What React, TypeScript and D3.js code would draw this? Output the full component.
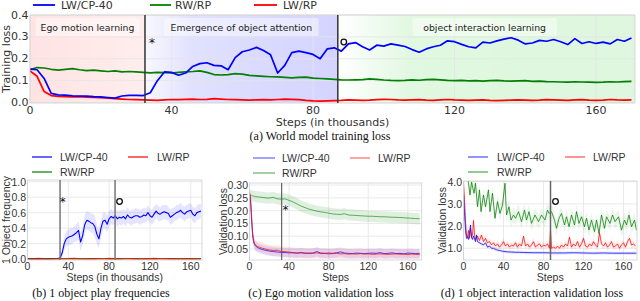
import React from 'react';
import * as d3 from 'd3';

// ---------------- DATA ----------------
// (a) World model training loss, steps in thousands
const STEPS_A = d3.range(0, 171, 2);
const A_CP40 = [
  0.153, 0.150, 0.110, 0.042, 0.035, 0.034, 0.031, 0.030, 0.029, 0.027,
  0.026, 0.023, 0.020, 0.030, 0.033, 0.033, 0.032, 0.045, 0.100, 0.140,
  0.138, 0.125, 0.135, 0.165, 0.178, 0.182, 0.170, 0.168, 0.150, 0.205,
  0.232, 0.240, 0.252, 0.238, 0.218, 0.135, 0.170, 0.228, 0.235, 0.228,
  0.220, 0.200, 0.245, 0.250, 0.235, 0.268, 0.274, 0.255, 0.240, 0.262,
  0.258, 0.268, 0.262, 0.256, 0.242, 0.230, 0.245, 0.255, 0.262, 0.282,
  0.278, 0.266, 0.255, 0.250, 0.276, 0.272, 0.282, 0.290, 0.296, 0.285,
  0.268, 0.272, 0.284, 0.280, 0.288, 0.278, 0.265, 0.292, 0.270, 0.278,
  0.270, 0.276, 0.268, 0.288, 0.280, 0.295,
];
const A_RWRP = [
  0.150, 0.160, 0.158, 0.152, 0.148, 0.152, 0.155, 0.150, 0.146, 0.148,
  0.145, 0.142, 0.145, 0.140, 0.142, 0.140, 0.138, 0.136, 0.138, 0.137,
  0.135, 0.138, 0.140, 0.142, 0.145, 0.138, 0.128, 0.126, 0.128, 0.132,
  0.130, 0.124, 0.122, 0.120, 0.118, 0.117, 0.115, 0.113, 0.115, 0.116,
  0.112, 0.110, 0.108, 0.106, 0.104, 0.103, 0.104, 0.105, 0.108, 0.106,
  0.103, 0.101, 0.100, 0.101, 0.104, 0.102, 0.105, 0.106, 0.104, 0.101,
  0.100, 0.101, 0.099, 0.100, 0.098, 0.100, 0.101, 0.099, 0.098, 0.099,
  0.100, 0.097, 0.098, 0.096, 0.095, 0.094, 0.093, 0.095, 0.094, 0.093,
  0.092, 0.093, 0.095, 0.094, 0.096, 0.097,
];
const A_LWRP = [
  0.145, 0.120, 0.050, 0.032, 0.028, 0.027, 0.026, 0.027, 0.025, 0.024,
  0.022, 0.020, 0.018, 0.016, 0.014, 0.013, 0.012, 0.011, 0.010, 0.012,
  0.014, 0.013, 0.015, 0.016, 0.014, 0.015, 0.018, 0.016, 0.014, 0.013,
  0.012, 0.011, 0.012, 0.013, 0.012, 0.014, 0.016, 0.015, 0.013, 0.010,
  0.008, 0.007, 0.008, 0.009, 0.010, 0.012, 0.011, 0.010, 0.011, 0.013,
  0.015, 0.014, 0.012, 0.011, 0.012, 0.013, 0.011, 0.010, 0.012, 0.014,
  0.012, 0.011, 0.010, 0.011, 0.012, 0.010, 0.009, 0.010, 0.011, 0.012,
  0.011, 0.010, 0.011, 0.013, 0.012, 0.011, 0.010, 0.012, 0.013, 0.011,
  0.010, 0.011, 0.014, 0.012, 0.011, 0.012,
];
const A_TICKS_X = [0, 40, 80, 120, 160];
const A_TICKS_Y = [0, 0.1, 0.2, 0.3, 0.4];
const A_PHASES = [
  { from: 0, to: 32.5, label: 'Ego motion learning', color: '#ff0000', stops: [0.11, 0.1, 0.07] },
  { from: 32.5, to: 87, label: 'Emergence of object attention', color: '#0000ff', stops: [0.03, 0.12, 0.17] },
  { from: 87, to: 171, label: 'object interaction learning', color: '#00c000', stops: [0.0, 0.12, 0.13] },
];

// (b) 1 object play frequencies
const STEPS_B = d3.range(0, 171, 2);
const B_CP40 = [
  0.004, 0.003, 0.005, 0.004, 0.003, 0.006, 0.004, 0.005, 0.003, 0.004,
  0.006, 0.005, 0.004, 0.005, 0.006, 0.008,
  0.012, 0.08, 0.20, 0.26, 0.28, 0.29, 0.30, 0.32, 0.34, 0.37,
  0.22, 0.30, 0.44, 0.50, 0.49, 0.47, 0.46, 0.42, 0.32, 0.26,
  0.40, 0.49, 0.50, 0.45, 0.52, 0.55, 0.53, 0.56, 0.52, 0.54,
  0.53, 0.55, 0.52, 0.57, 0.54, 0.53, 0.55, 0.56, 0.56, 0.54,
  0.55, 0.57, 0.56, 0.60, 0.56, 0.54, 0.58, 0.62, 0.59, 0.58,
  0.60, 0.61, 0.60, 0.59, 0.54, 0.56, 0.58, 0.60, 0.61, 0.63,
  0.60, 0.58, 0.61, 0.62, 0.63, 0.58, 0.56, 0.60, 0.61, 0.62,
];
const B_CP40_SPREAD = [
  0.005, 0.005, 0.005, 0.005, 0.005, 0.005, 0.005, 0.005, 0.005, 0.005,
  0.005, 0.005, 0.005, 0.005, 0.005, 0.008,
  0.02, 0.06, 0.09, 0.10, 0.10, 0.11, 0.10, 0.10, 0.11, 0.12,
  0.12, 0.12, 0.13, 0.12, 0.12, 0.12, 0.13, 0.14, 0.13, 0.12,
  0.12, 0.11, 0.10, 0.11, 0.10, 0.10, 0.09, 0.10, 0.10, 0.09,
  0.10, 0.09, 0.10, 0.10, 0.09, 0.10, 0.09, 0.10, 0.09, 0.10,
  0.09, 0.10, 0.09, 0.10, 0.09, 0.10, 0.10, 0.09, 0.10, 0.09,
  0.10, 0.09, 0.10, 0.09, 0.10, 0.10, 0.09, 0.10, 0.09, 0.10,
  0.09, 0.10, 0.09, 0.10, 0.09, 0.10, 0.10, 0.09, 0.10, 0.09,
];
const STEPS_B_FLAT = d3.range(0, 171, 5);
const B_LWRP = [
  0.006, 0.004, 0.008, 0.005, 0.003, 0.007, 0.006, 0.004, 0.005, 0.008,
  0.006, 0.004, 0.007, 0.005, 0.006, 0.004, 0.008, 0.005, 0.006, 0.003,
  0.005, 0.007, 0.004, 0.006, 0.005, 0.008, 0.004, 0.006, 0.005, 0.007,
  0.004, 0.006, 0.005, 0.004, 0.006,
];
const B_RWRP = [
  0.002, 0.003, 0.002, 0.004, 0.002, 0.003, 0.002, 0.003, 0.004, 0.002,
  0.003, 0.002, 0.003, 0.002, 0.004, 0.003, 0.002, 0.003, 0.002, 0.003,
  0.004, 0.002, 0.003, 0.002, 0.003, 0.002, 0.004, 0.003, 0.002, 0.003,
  0.002, 0.003, 0.002, 0.003, 0.002,
];
const B_TICKS_X = [0, 40, 80, 120, 160];
const B_TICKS_Y = [0, 0.2, 0.4, 0.6, 0.8, 1.0];

// (c) Ego motion validation loss
const STEPS_C = [0, 1, 2, 3, 4, 5, 6, 8, 10, 13, 16, 20, 24, 28, 32, 36, 40, 44, 48, 52, 56, 60, 64, 68, 72, 76, 80, 84, 88, 92, 96, 100, 104, 108, 112, 116, 120, 124, 128, 132, 136, 140, 144, 148, 152, 156, 160, 164, 168, 172];
const C_RWRP = [
  0.262, 0.261, 0.259, 0.258, 0.257, 0.256, 0.255, 0.254, 0.253, 0.252,
  0.250, 0.249, 0.252, 0.246, 0.245, 0.246, 0.240, 0.234, 0.226, 0.218,
  0.212, 0.206, 0.202, 0.198, 0.195, 0.193, 0.190, 0.187, 0.186, 0.185,
  0.188, 0.183, 0.182, 0.181, 0.180, 0.179, 0.178, 0.178, 0.177, 0.176,
  0.176, 0.175, 0.174, 0.174, 0.173, 0.172, 0.171, 0.170, 0.169, 0.168,
];
const C_CP40 = [
  0.27, 0.24, 0.17, 0.11, 0.08, 0.068, 0.062, 0.056, 0.052, 0.048,
  0.045, 0.042, 0.040, 0.038, 0.037, 0.036, 0.035, 0.035, 0.034, 0.036,
  0.034, 0.033, 0.034, 0.040, 0.034, 0.033, 0.034, 0.033, 0.035, 0.039,
  0.034, 0.033, 0.032, 0.034, 0.033, 0.032, 0.033, 0.034, 0.033, 0.036,
  0.032, 0.033, 0.035, 0.032, 0.033, 0.031, 0.034, 0.033, 0.032, 0.033,
];
const C_LWRP = [
  0.27, 0.25, 0.19, 0.12, 0.085, 0.072, 0.066, 0.060, 0.057, 0.053,
  0.050, 0.046, 0.044, 0.045, 0.040, 0.040, 0.038, 0.036, 0.034, 0.035,
  0.033, 0.034, 0.033, 0.035, 0.032, 0.033, 0.031, 0.032, 0.033, 0.031,
  0.032, 0.030, 0.031, 0.030, 0.032, 0.030, 0.031, 0.029, 0.030, 0.031,
  0.030, 0.029, 0.030, 0.031, 0.029, 0.030, 0.028, 0.030, 0.029, 0.028,
];
const C_SPREAD = { cp40: 0.018, lwrp: 0.02, rwrp: 0.022 };
const C_TICKS_X = [0, 40, 80, 120, 160];
const C_TICKS_Y = [0.05, 0.10, 0.15, 0.20, 0.25, 0.30];

// (d) 1 object interaction validation loss
const D_RWRP_STEPS = [4, 5, 6.5, 8, 10.5, 12, 14, 16, 17.5, 20, 22, 25, 26.5, 29, 31.5, 34, 36.5, 39, 41.5, 43, 45.5, 47.5, 50, 52, 55, 58, 61, 63, 65.5, 68, 71.5, 75, 78, 81.5, 84, 85.5, 88, 91, 93, 95.5, 98, 101, 103, 105.5, 108, 111, 113, 115.5, 118, 121, 123, 125.5, 128, 131, 133, 135.5, 138, 141, 143, 146.5, 149, 151.5, 155, 158, 161, 163, 165.5, 168, 171, 173];
const D_RWRP = [
  4.2,
  3.93, 3.40, 3.98, 3.48, 3.93, 2.87, 3.63, 2.65, 3.40, 2.87,
  3.63, 2.65, 3.48, 2.35, 3.10, 2.57, 2.95, 3.93, 2.50, 2.87,
  2.27, 2.50, 2.35, 2.65, 2.20, 2.72, 2.27, 2.65, 2.12, 2.50,
  2.20, 2.50, 2.27, 2.72, 2.57, 2.65, 2.27, 1.90, 2.35, 2.57,
  2.05, 2.42, 1.97, 2.50, 2.05, 2.65, 2.12, 2.42, 1.97, 2.35,
  1.82, 2.27, 1.75, 2.27, 1.67, 2.50, 1.90, 2.42, 2.12, 2.50,
  2.20, 2.42, 1.82, 2.27, 2.05, 2.50, 1.97, 2.27, 1.82,
];
const D_LWRP_STEPS = [0, 1, 2, 3, 4, 5, 6, 7, 8, 9, 10, 11, 12, 14, 16, 18, 20, 22, 24, 26, 28, 30, 32, 34, 36, 38, 40, 42, 44, 46, 48, 50, 52, 54, 56, 58, 60, 62, 64, 66, 68, 70, 72, 74, 76, 78, 80, 82, 84, 86, 87, 88, 90, 92, 94, 96, 98, 100, 102, 104, 106, 108, 110, 112, 114, 116, 118, 120, 122, 124, 126, 128, 130, 132, 134, 136, 138, 140, 142, 144, 146, 148, 150, 152, 154, 156, 158, 160, 162, 164, 166, 168, 170, 172];
const D_LWRP = [
  4.0, 3.2, 2.2, 1.6, 1.5, 1.8, 1.45, 1.9, 1.5, 1.6, 2.25, 1.6, 1.4,
  1.55, 1.35, 1.6, 1.3, 1.45, 1.25, 1.3, 1.15, 1.25, 1.1, 1.2, 1.05, 1.15,
  1.3, 1.1, 1.2, 1.05, 1.15, 1.1, 1.25, 1.05, 1.2, 1.1, 1.55, 1.1, 1.2, 1.05,
  1.15, 1.3, 1.05, 1.15, 1.2, 1.05, 1.15, 1.1, 1.2, 1.0, 1.85, 1.0,
  1.05, 1.0, 1.1, 1.0, 1.15, 1.05, 1.2, 1.1, 1.5, 1.05, 1.2, 1.1, 1.3, 1.05,
  1.2, 1.45, 1.1, 1.05, 1.2, 1.1, 1.3, 1.15, 1.05, 1.7, 1.2, 1.1, 1.25, 1.05,
  1.15, 1.3, 1.05, 1.1, 1.2, 1.0, 1.15, 1.25, 1.05, 1.3, 1.45, 1.15, 1.2, 1.1,
];
const D_CP40_STEPS = [0, 1, 2, 3, 4, 5, 6, 7, 8, 9, 10, 12, 13, 14, 16, 18, 20, 22, 24, 26, 28, 30, 32, 34, 36, 38, 40, 44, 48, 52, 56, 60, 70, 80, 90, 100, 110, 120, 130, 140, 150, 160, 173];
const D_CP40 = [
  3.4, 2.6, 1.8, 1.45, 1.5, 1.4, 1.7, 2.05, 1.5, 1.4, 1.55, 1.3, 1.6, 1.3,
  1.25, 1.2, 1.15, 1.25, 1.05, 1.1, 1.0, 1.0, 0.95, 0.92, 0.9, 0.88, 0.86,
  0.84, 0.83, 0.82, 0.82, 0.81, 0.8, 0.8, 0.79, 0.79, 0.8, 0.79, 0.78, 0.79,
  0.78, 0.78, 0.78,
];
const D_SPREAD = { cp40: 0.07, lwrp: 0.16, rwrp: 0.32 };
const D_TICKS_X = [0, 40, 80, 120, 160];
const D_TICKS_Y = [1, 2, 3, 4];

// ---------------- STYLE ----------------
const BLUE = '#0000ff';
const GREEN = '#008000';
const RED = '#ff0000';
const FONT_A = "'DejaVu Sans', sans-serif";
const FONT_B = "'Liberation Sans', Arial, sans-serif";
const SERIF = "'Liberation Serif', 'Times New Roman', serif";
const GRID = '#e4e4e4';
const FRAME = '#d0d0d0';

type Series = {
  xs: number[];
  ys: number[];
  spread?: number[] | number;
  color: string;
  width: number;
  opacity?: number;
  bandOpacity?: number;
};

type PanelProps = {
  id: string;
  l: number; r: number; t: number; b: number;
  xDomain: [number, number];
  yDomain: [number, number];
  xTicks: number[];
  yTicks: number[];
  yFmt: string;
  font: string;
  fs: number;
  series: Series[];
  vlines: { x: number; color: string; width: number }[];
  xLabel: string;
  yLabel: string;
  yLabelX: number;
  xTickY: number;
  xLabelY: number;
  background?: (x: d3.ScaleLinear<number, number>, y: d3.ScaleLinear<number, number>) => React.ReactNode;
  overlay?: (x: d3.ScaleLinear<number, number>, y: d3.ScaleLinear<number, number>) => React.ReactNode;
};

function Panel(p: PanelProps) {
  const x = d3.scaleLinear().domain(p.xDomain).range([p.l, p.r]);
  const y = d3.scaleLinear().domain(p.yDomain).range([p.b, p.t]);
  const clipId = `clip-${p.id}`;
  const fmt = d3.format(p.yFmt);
  return (
    <g>
      <defs>
        <clipPath id={clipId}>
          <rect x={p.l} y={p.t} width={p.r - p.l} height={p.b - p.t} />
        </clipPath>
      </defs>
      <rect x={p.l} y={p.t} width={p.r - p.l} height={p.b - p.t} fill="#fff" />
      {p.background && p.background(x, y)}
      {p.xTicks.map((v) => (
        <line key={`gx${v}`} x1={x(v)} x2={x(v)} y1={p.t} y2={p.b} stroke={GRID} strokeWidth={0.8} />
      ))}
      {p.yTicks.map((v) => (
        <line key={`gy${v}`} x1={p.l} x2={p.r} y1={y(v)} y2={y(v)} stroke={GRID} strokeWidth={0.8} />
      ))}
      <g clipPath={`url(#${clipId})`}>
        {p.series.map((s, i) => {
          if (s.spread === undefined) return null;
          const sp = (j: number) => (typeof s.spread === 'number' ? s.spread : (s.spread as number[])[j]);
          const area = d3
            .area<number>()
            .x((_, j) => x(s.xs[j]))
            .y0((v, j) => y(v - sp(j)))
            .y1((v, j) => y(v + sp(j)));
          return <path key={`band${i}`} d={area(s.ys) || ''} fill={s.color} opacity={s.bandOpacity ?? 0.12} stroke="none" />;
        })}
        {p.series.map((s, i) => {
          const line = d3
            .line<number>()
            .x((_, j) => x(s.xs[j]))
            .y((v) => y(v));
          return (
            <path key={`line${i}`} d={line(s.ys) || ''} fill="none" stroke={s.color} strokeWidth={s.width}
              strokeOpacity={s.opacity ?? 1} strokeLinejoin="round" />
          );
        })}
      </g>
      <rect x={p.l} y={p.t} width={p.r - p.l} height={p.b - p.t} fill="none" stroke={FRAME} strokeWidth={0.8} />
      {p.vlines.map((v, i) => (
        <line key={`vl${i}`} x1={x(v.x)} x2={x(v.x)} y1={p.t} y2={p.b} stroke={v.color} strokeWidth={v.width} />
      ))}
      {p.overlay && p.overlay(x, y)}
      {p.xTicks.map((v) => (
        <text key={`tx${v}`} x={x(v)} y={p.xTickY} textAnchor="middle" dominantBaseline="central"
          fontFamily={p.font} fontSize={p.fs} fill="#333">{v}</text>
      ))}
      {p.yTicks.map((v) => (
        <text key={`ty${v}`} x={p.l - 1.5} y={y(v)} textAnchor="end" dominantBaseline="central"
          fontFamily={p.font} fontSize={p.fs} fill="#333">{fmt(v)}</text>
      ))}
      <text x={(p.l + p.r) / 2} y={p.xLabelY} textAnchor="middle" dominantBaseline="central"
        fontFamily={p.font} fontSize={p.fs} fill="#333">{p.xLabel}</text>
      <text transform={`translate(${p.yLabelX},${(p.t + p.b) / 2}) rotate(-90)`} textAnchor="middle"
        dominantBaseline="central" fontFamily={p.font} fontSize={p.fs} fill="#333">{p.yLabel}</text>
    </g>
  );
}

type LegendItem = { label: string; color: string; x1: number; x2: number; tx: number; y: number; opacity?: number; width: number };

function Legend({ items, font, fs }: { items: LegendItem[]; font: string; fs: number }) {
  return (
    <g>
      {items.map((it) => (
        <g key={it.label}>
          <line x1={it.x1} x2={it.x2} y1={it.y} y2={it.y} stroke={it.color} strokeWidth={it.width} strokeOpacity={it.opacity ?? 1} />
          <text x={it.tx} y={it.y} dominantBaseline="central" fontFamily={font} fontSize={fs} fill="#333">{it.label}</text>
        </g>
      ))}
    </g>
  );
}

function Star({ x, y }: { x: number; y: number }) {
  return (
    <text x={x} y={y} textAnchor="middle" dominantBaseline="central" fontFamily={FONT_A} fontSize={12} fill="#111">*</text>
  );
}
function Ring({ x, y }: { x: number; y: number }) {
  return <circle cx={x} cy={y} r={2.8} fill="none" stroke="#111" strokeWidth={1.3} />;
}

export default function App() {
  const FS_B = 10.5;
  return (
    <svg width={640} height={301} viewBox="0 0 640 301" style={{ position: 'absolute', left: 0, top: 0, background: '#fff' }}>
      <rect x={0} y={0} width={640} height={301} fill="#fff" />
      <defs>
        {A_PHASES.map((ph, i) => (
          <linearGradient key={i} id={`phase${i}`} x1="0" x2="1" y1="0" y2="0">
            <stop offset="0%" stopColor={ph.color} stopOpacity={ph.stops[0]} />
            <stop offset="25%" stopColor={ph.color} stopOpacity={ph.stops[1]} />
            <stop offset="100%" stopColor={ph.color} stopOpacity={ph.stops[2]} />
          </linearGradient>
        ))}
      </defs>

      {/* (a) */}
      <Legend font={FONT_A} fs={11} items={[
        { label: 'LW/CP-40', color: BLUE, x1: 33, x2: 55, tx: 61, y: 5, width: 1.8 },
        { label: 'RW/RP', color: GREEN, x1: 150, x2: 171, tx: 175, y: 5, width: 1.8 },
        { label: 'LW/RP', color: RED, x1: 254, x2: 277, tx: 283, y: 5, width: 1.8 },
      ]} />
      <Panel id="a" l={30} r={635} t={15} b={103} xDomain={[0, 171]} yDomain={[-0.002, 0.4]}
        xTicks={A_TICKS_X} yTicks={A_TICKS_Y} yFmt=".1f" font={FONT_A} fs={11}
        series={[
          { xs: STEPS_A, ys: A_RWRP, color: GREEN, width: 1.7 },
          { xs: STEPS_A, ys: A_LWRP, color: RED, width: 1.7 },
          { xs: STEPS_A, ys: A_CP40, color: BLUE, width: 1.7 },
        ]}
        vlines={[{ x: 32.5, color: '#333', width: 1.5 }, { x: 87, color: '#333', width: 1.5 }]}
        xLabel="Steps (in thousands)" yLabel="Training loss" yLabelX={6} xTickY={110} xLabelY={122}
        background={(x, y) => (
          <g>
            {A_PHASES.map((ph, i) => (
              <rect key={i} x={x(ph.from)} y={y(0.4)} width={x(ph.to) - x(ph.from)} height={y(-0.002) - y(0.4)} fill={`url(#phase${i})`} />
            ))}
          </g>
        )}
        overlay={(x, y) => (
          <g>
            {A_PHASES.map((ph, i) => {
              const cx = i === 2 ? x(128.5) : (x(ph.from) + x(ph.to)) / 2;
              const w = ph.label.length * 5.05 + 8;
              return (
                <g key={i}>
                  <rect x={cx - w / 2} y={18} width={w} height={18} rx={2} fill="#fff" fillOpacity={0.45} />
                  <text x={cx} y={27} textAnchor="middle" dominantBaseline="central" fontFamily={FONT_A} fontSize={9.3} fill="#222">{ph.label}</text>
                </g>
              );
            })}
            <Star x={x(34.5)} y={43} />
            <Ring x={x(88.7)} y={42} />
          </g>
        )}
      />
      <text x={320} y={136} textAnchor="middle" dominantBaseline="central" fontFamily={SERIF} fontSize={12} fill="#111">(a) World model training loss</text>

      {/* (b) */}
      <Legend font={FONT_B} fs={FS_B} items={[
        { label: 'LW/CP-40', color: BLUE, x1: 32, x2: 52, tx: 60, y: 157, width: 1.2 },
        { label: 'LW/RP', color: RED, x1: 128, x2: 148, tx: 157, y: 157, width: 1.2 },
        { label: 'RW/RP', color: GREEN, x1: 32, x2: 52, tx: 60, y: 172, width: 1.2 },
      ]} />
      <Panel id="b" l={27.5} r={202} t={180} b={260} xDomain={[0, 171]} yDomain={[-0.013, 1.022]}
        xTicks={B_TICKS_X} yTicks={B_TICKS_Y} yFmt=".1f" font={FONT_B} fs={FS_B}
        series={[
          { xs: STEPS_B, ys: B_CP40, spread: B_CP40_SPREAD, color: BLUE, width: 1.1, bandOpacity: 0.1 },
          { xs: STEPS_B_FLAT, ys: B_RWRP, color: GREEN, width: 1.1 },
          { xs: STEPS_B_FLAT, ys: B_LWRP, color: RED, width: 1.1, opacity: 0.8 },
        ]}
        vlines={[{ x: 31.9, color: '#777', width: 1.5 }, { x: 85.8, color: '#777', width: 1.5 }]}
        xLabel="Steps (in thousands)" yLabel="1 Object frequency" yLabelX={6} xTickY={266} xLabelY={277}
        overlay={(x, y) => (
          <g>
            <Star x={x(34.5)} y={202} />
            <Ring x={x(90.2)} y={201.5} />
          </g>
        )}
      />
      <text x={101} y={293} textAnchor="middle" dominantBaseline="central" fontFamily={SERIF} fontSize={12} fill="#111">(b) 1 object play frequencies</text>

      {/* (c) */}
      <Legend font={FONT_B} fs={FS_B} items={[
        { label: 'LW/CP-40', color: BLUE, x1: 253, x2: 275, tx: 282, y: 158, width: 1.2, opacity: 0.6 },
        { label: 'LW/RP', color: RED, x1: 350, x2: 370, tx: 378, y: 158, width: 1.2, opacity: 0.6 },
        { label: 'RW/RP', color: GREEN, x1: 253, x2: 275, tx: 282, y: 173, width: 1.2, opacity: 0.6 },
      ]} />
      <Panel id="c" l={249.5} r={421.7} t={183} b={260} xDomain={[0, 174]} yDomain={[0.007, 0.308]}
        xTicks={C_TICKS_X} yTicks={C_TICKS_Y} yFmt=".2f" font={FONT_B} fs={FS_B}
        series={[
          { xs: STEPS_C, ys: C_RWRP, spread: C_SPREAD.rwrp, color: GREEN, width: 1.0, opacity: 0.6, bandOpacity: 0.12 },
          { xs: STEPS_C, ys: C_CP40, spread: C_SPREAD.cp40, color: BLUE, width: 1.0, opacity: 0.7, bandOpacity: 0.1 },
          { xs: STEPS_C, ys: C_LWRP, spread: C_SPREAD.lwrp, color: RED, width: 1.0, opacity: 0.7, bandOpacity: 0.1 },
        ]}
        vlines={[{ x: 32.5, color: '#555', width: 1.1 }]}
        xLabel="Steps" yLabel="Validation loss" yLabelX={223} xTickY={266} xLabelY={277}
        overlay={(x, y) => <Star x={x(36.5)} y={210} />}
      />
      <text x={321} y={293} textAnchor="middle" dominantBaseline="central" fontFamily={SERIF} fontSize={12} fill="#111">(c) Ego motion validation loss</text>

      {/* (d) */}
      <Legend font={FONT_B} fs={FS_B} items={[
        { label: 'LW/CP-40', color: BLUE, x1: 468, x2: 488, tx: 497, y: 157, width: 1.2, opacity: 0.7 },
        { label: 'LW/RP', color: RED, x1: 565, x2: 585, tx: 593, y: 157, width: 1.2, opacity: 0.7 },
        { label: 'RW/RP', color: GREEN, x1: 468, x2: 488, tx: 497, y: 172, width: 1.2, opacity: 0.7 },
      ]} />
      <Panel id="d" l={463.5} r={637} t={181} b={260} xDomain={[0, 173.5]} yDomain={[0.473, 4.03]}
        xTicks={D_TICKS_X} yTicks={D_TICKS_Y} yFmt=".1f" font={FONT_B} fs={FS_B}
        series={[
          { xs: D_RWRP_STEPS, ys: D_RWRP, spread: D_SPREAD.rwrp, color: GREEN, width: 1.0, opacity: 0.75, bandOpacity: 0.08 },
          { xs: D_LWRP_STEPS, ys: D_LWRP, spread: D_SPREAD.lwrp, color: RED, width: 1.0, opacity: 0.75, bandOpacity: 0.08 },
          { xs: D_CP40_STEPS, ys: D_CP40, spread: D_SPREAD.cp40, color: BLUE, width: 1.0, opacity: 0.75, bandOpacity: 0.1 },
        ]}
        vlines={[{ x: 87, color: '#666', width: 1.5 }]}
        xLabel="Steps" yLabel="Validation loss" yLabelX={442} xTickY={266} xLabelY={277}
        overlay={(x, y) => <Ring x={x(92)} y={201.5} />}
      />
      <text x={532} y={293} textAnchor="middle" dominantBaseline="central" fontFamily={SERIF} fontSize={12} fill="#111">(d) 1 object interaction validation loss</text>
    </svg>
  );
}
